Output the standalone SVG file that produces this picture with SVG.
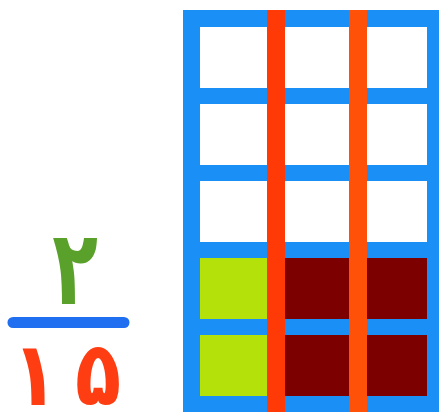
<svg xmlns="http://www.w3.org/2000/svg" width="439" height="414" viewBox="0 0 439 414">
<style>
.w{fill:#ffffff}
.g{fill:#b4e10a}
.m{fill:#7c0000}
.num{font-family:"DejaVu Sans",sans-serif;font-weight:bold;text-anchor:middle}
.den{fill:#ff3d12}
</style>
<rect width="439" height="414" fill="#ffffff"/>
<g id="fraction">
<text class="num" transform="translate(75,304) scale(0.72,1)" font-size="104" fill="#5aa12c">۲</text>
<line x1="13" y1="322.5" x2="124" y2="322.5" stroke="#1f6ff0" stroke-width="11" stroke-linecap="round"/>
<text class="num den" transform="translate(35,405) scale(0.85,1)" font-size="89">۱</text>
<text class="num den" transform="translate(98,405) scale(0.85,1)" font-size="89">۵</text>
</g>
<g id="grid">
<rect x="183" y="10" width="256" height="402" fill="#1a8ff5"/>
<rect class="w" x="200" y="27" width="227" height="61"/>
<rect class="w" x="200" y="104" width="227" height="61"/>
<rect class="w" x="200" y="181" width="227" height="61"/>
<rect class="g" x="200" y="258" width="67" height="61"/>
<rect class="m" x="285" y="258" width="142" height="61"/>
<rect class="g" x="200" y="335" width="67" height="61"/>
<rect class="m" x="285" y="335" width="142" height="61"/>
<rect x="267" y="10" width="18" height="402" fill="#ff3a06"/>
<rect x="349" y="10" width="18" height="402" fill="#ff5208"/>
</g>
</svg>
